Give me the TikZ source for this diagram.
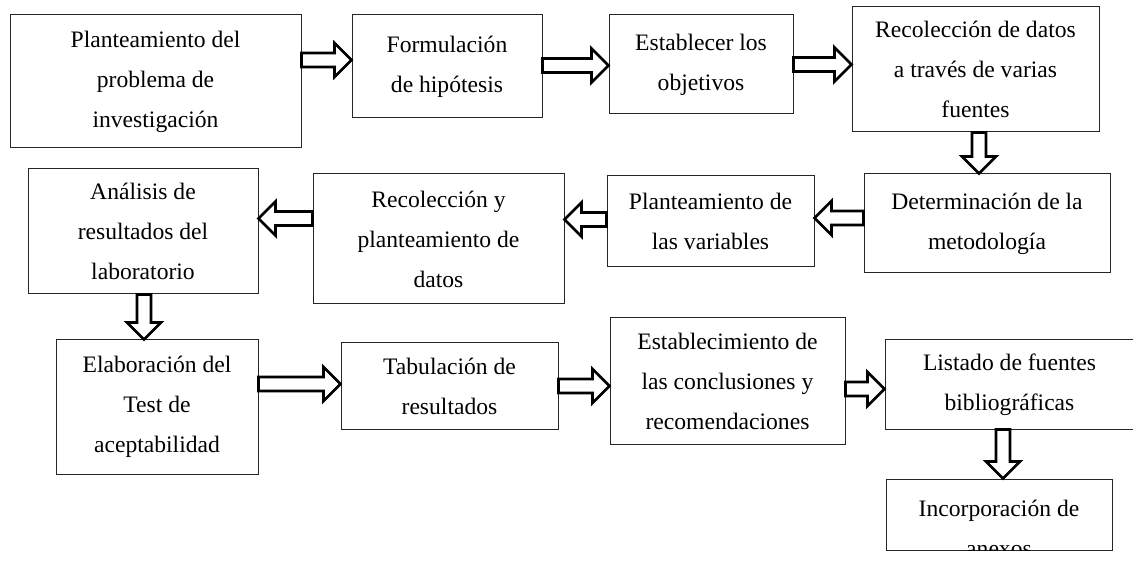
\documentclass[tikz,border=0pt]{standalone}
\usepackage{fontspec}
\setmainfont{Liberation Serif}
\usetikzlibrary{calc}
\tikzset{
  caja/.style={draw=black!85,line width=1pt,align=center,inner sep=0pt},
  flecha/.style={draw=black,line width=2.7pt,fill=white}
}
% block arrow from #1 to #2
\newcommand{\flecha}[2]{%
  \draw[flecha] let \p1=(#1), \p2=(#2), \n1={atan2(\y2-\y1,\x2-\x1)}, \n2={veclen(\x2-\x1,\y2-\y1)} in
    {[shift={(\p1)},rotate=\n1] (0,-7) -- ({\n2-17},-7) -- ({\n2-17},-17) -- (\n2,0) -- ({\n2-17},17) -- ({\n2-17},7) -- (0,7) -- cycle};
}
\begin{document}
\begin{tikzpicture}[x=1pt,y=-1pt,font=\fontsize{23.6}{40}\selectfont]
\useasboundingbox (0,0) rectangle (1133,561);
% fila 1
\node[caja,minimum width=291pt,minimum height=133pt] (plant) at (155.5,81.5) {Planteamiento del\\problema de\\investigación};
\node[caja,minimum width=190pt,minimum height=103pt] (hipo) at (447,66.5) {Formulación\\de hipótesis};
\node[caja,minimum width=184pt,minimum height=99pt] (obj) at (701,64.5) {Establecer los\\objetivos};
\node[caja,minimum width=247pt,minimum height=125pt] (reco) at (975.5,69.5) {Recolección de datos\\a través de varias\\fuentes};
% fila 2
\node[caja,minimum width=246pt,minimum height=99pt] (meto) at (987,223.5) {Determinación de la\\metodología};
\node[caja,minimum width=207pt,minimum height=91pt] (vari) at (710.5,221.5) {Planteamiento de\\las variables};
\node[caja,minimum width=251pt,minimum height=130pt] (datos) at (438.5,239) {Recolección y\\planteamiento de\\datos};
\node[caja,minimum width=230pt,minimum height=125pt] (anal) at (143,231.5) {Análisis de\\resultados del\\laboratorio};
% fila 3
\node[caja,minimum width=202pt,minimum height=134pt] (test) at (157,407) {Elaboración del\\Test de\\aceptabilidad};
\node[caja,minimum width=217pt,minimum height=86pt] (tabu) at (449.5,386) {Tabulación de\\resultados};
\node[caja,minimum width=235pt,minimum height=126pt] (concl) at (727.5,381) {Establecimiento de\\las conclusiones y\\recomendaciones};
\node[caja,minimum width=249pt,minimum height=89pt] (fuen) at (1009.5,384.5) {Listado de fuentes\\bibliográficas};
\node[caja,minimum width=226pt,minimum height=71pt] (anex) at (999,514.5) {};
\begin{scope}
  \clip (anex.south west) rectangle (anex.north east);
  \node[anchor=north,align=center,inner sep=0pt] (anextxt) at ($(anex.north)+(0,21.5)$) {Incorporación de\\anexos};
\end{scope}
% flechas
\flecha{plant.east |- 0,60}{hipo.west |- 0,60}
\flecha{hipo.east |- 0,65.5}{obj.west |- 0,65.5}
\flecha{obj.east |- 0,64.5}{reco.west |- 0,64.5}
\flecha{reco.south -| 979,0}{meto.north -| 979,0}
\flecha{meto.west |- 0,218}{vari.east |- 0,218}
\flecha{vari.west |- 0,219.5}{datos.east |- 0,219.5}
\flecha{datos.west |- 0,218.5}{anal.east |- 0,218.5}
\flecha{anal.south -| 144,0}{test.north -| 144,0}
\flecha{test.east |- 0,384}{tabu.west |- 0,384}
\flecha{tabu.east |- 0,386}{concl.west |- 0,386}
\flecha{concl.east |- 0,389}{fuen.west |- 0,389}
\flecha{fuen.south -| 1003,0}{anex.north -| 1003,0}
\end{tikzpicture}
\end{document}
